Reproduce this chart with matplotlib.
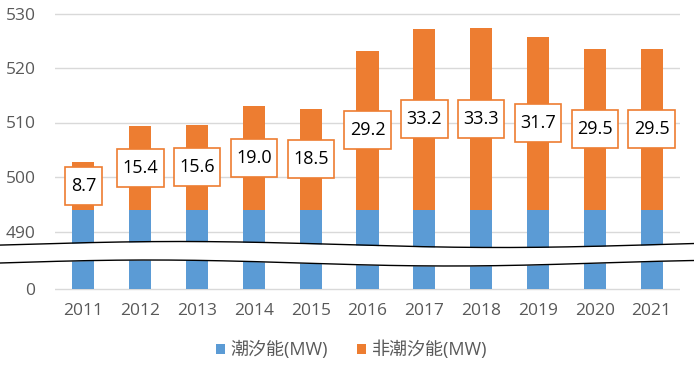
import numpy as np
import matplotlib
matplotlib.use('Agg')
import matplotlib.pyplot as plt
from matplotlib.path import Path

plt.rcParams['font.family'] = ['Open Sans', 'Noto Sans CJK SC', 'DejaVu Sans']

# data
years = ['2011', '2012', '2013', '2014', '2015', '2016', '2017', '2018', '2019', '2020', '2021']
tidal = [494] * 11
non_tidal = [8.7, 15.4, 15.6, 19.0, 18.5, 29.2, 33.2, 33.3, 31.7, 29.5, 29.5]

blue = '#5B9BD5'
orange = '#ED7D31'
grid_c = '#D9D9D9'
txt_c = '#595959'

W, H = 694, 365
fig = plt.figure(figsize=(W / 100, H / 100), dpi=100)

# pixel layout
x0, x1 = 55, 680
px_per_unit = 5.45

def frac_rect(left, top, right, bottom):
    return [left / W, (H - bottom) / H, (right - left) / W, (bottom - top) / H]

# caixa do rótulo: mais alta do que larga
def label_box(bx, by, bw, bh, mutation_size):
    px = 0.3 * mutation_size
    py = 0.55 * mutation_size
    return Path([(bx - px, by - py), (bx + bw + px, by - py), (bx + bw + px, by + bh + py),
                 (bx - px, by + bh + py), (bx - px, by - py)], closed=True)

ax_top = fig.add_axes(frac_rect(x0, 8, x1, 252))
ax_bot = fig.add_axes(frac_rect(x0, 252, x1, 295))

x = np.arange(len(years))
width = 0.39

for ax in (ax_top, ax_bot):
    b1 = ax.bar(x, tidal, width, color=blue, zorder=2, label='潮汐能(MW)')
    b2 = ax.bar(x, non_tidal, width, bottom=tidal, color=orange, zorder=2, label='非潮汐能(MW)')
    ax.set_xlim(-0.5, len(years) - 0.5)
    for s in ax.spines.values():
        s.set_visible(False)
    ax.yaxis.grid(True, color=grid_c, lw=1.0, zorder=0)
    ax.tick_params(axis='both', length=0, labelsize=12.5, labelcolor=txt_c)
    ax.tick_params(axis='y', pad=14)

ax_top.set_ylim(490 - 20.5 / px_per_unit, 530 + 5.5 / px_per_unit)
ax_top.set_yticks([490, 500, 510, 520, 530])
ax_top.set_xticks([])

ax_bot.set_ylim(-6 / px_per_unit, 37 / px_per_unit)
ax_bot.set_yticks([0])
ax_bot.set_xticks(x)
ax_bot.set_xticklabels(years)
ax_bot.tick_params(axis='x', pad=6)

# rótulos de dados
for i, v in enumerate(non_tidal):
    ax_top.text(i, tidal[i] + v / 2, f'{v:.1f}', ha='center', va='center',
                fontsize=13, color='black', zorder=5,
                bbox=dict(boxstyle=label_box, fc='white', ec=orange, lw=1.2))

# faixa de quebra do eixo
ov = fig.add_axes([0, 0, 1, 1], zorder=10)
ov.set_xlim(0, W)
ov.set_ylim(H, 0)
ov.axis('off')
xx = np.linspace(0, W, 400)
upper = 244.5 + 3 * np.cos(2 * np.pi * (xx - 500) / 640)
lower = 263 + 3 * np.cos(2 * np.pi * (xx - 450) / 600)
ov.fill_between(xx, upper, lower, color='white', lw=0)
ov.plot(xx, upper, color='black', lw=1.0)
ov.plot(xx, lower, color='black', lw=1.0)

fig.legend(handles=[b1, b2], loc='center', bbox_to_anchor=(0.507, 15 / H), ncol=2,
           frameon=False, fontsize=13, labelcolor=txt_c, handlelength=0.5,
           handleheight=0.5, handletextpad=0.3, columnspacing=1.6)

fig.savefig('out.png', dpi=100)
